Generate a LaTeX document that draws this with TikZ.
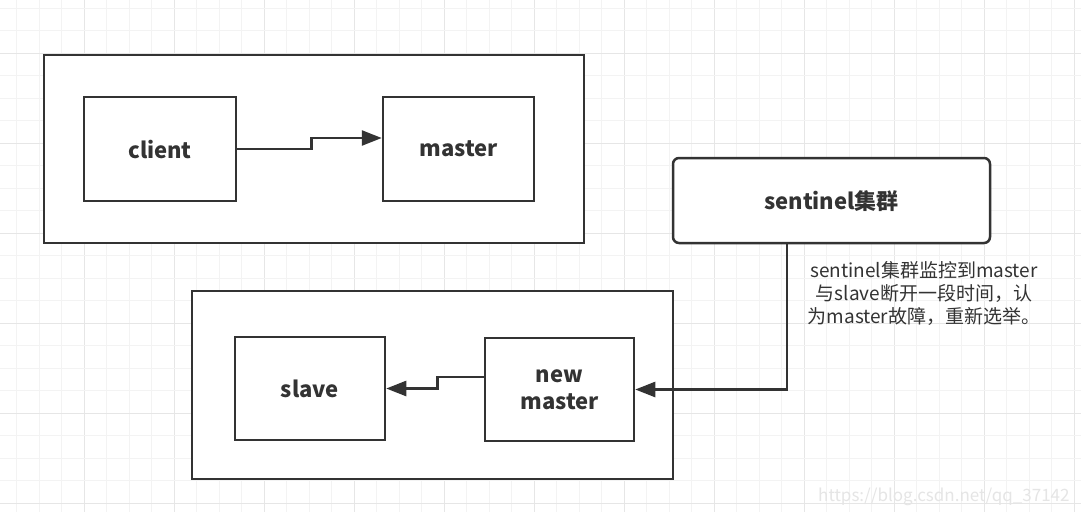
\documentclass[tikz,border=0pt]{standalone}
\usepackage{fontspec}
\setmainfont{Noto Sans CJK SC}
\usetikzlibrary{arrows.meta,calc}
\definecolor{ln}{HTML}{333333}
\definecolor{txt}{HTML}{333333}
\definecolor{gridminor}{HTML}{F3F3F3}
\definecolor{gridmajor}{HTML}{E6E6E6}
\begin{document}
\begin{tikzpicture}[x=1pt,y=-1pt,
  box/.style={draw=ln,line width=2.5pt,fill=white,inner sep=0pt,text=txt,
    font=\fontsize{22}{27}\selectfont\bfseries,align=center,text depth=0pt},
  arr/.style={draw=ln,line width=2.5pt,-{Triangle[length=20pt,width=15pt]}},
  note/.style={text=txt,font=\fontsize{19}{23}\selectfont,align=center,inner sep=0pt}]
\useasboundingbox (0,0) rectangle (1081,512);
\fill[white] (0,0) rectangle (1081,512);
% grid
\foreach \k in {0,...,47}{
  \pgfmathtruncatemacro\m{mod(\k,4)}
  \ifnum\m=3 \def\gc{gridmajor}\else\def\gc{gridminor}\fi
  \draw[\gc,line width=1pt] ({16.8+22.5*\k},0) -- ({16.8+22.5*\k},512);
}
\foreach \k in {0,...,22}{
  \pgfmathtruncatemacro\m{mod(\k,4)}
  \ifnum\m=2 \def\gc{gridmajor}\else\def\gc{gridminor}\fi
  \draw[\gc,line width=1pt] (0,{8.3+22.5*\k}) -- (1081,{8.3+22.5*\k});
}
% outer groups
\node[box,minimum width=540pt,minimum height=188pt] (g1) at (314,149) {};
\node[box,minimum width=481pt,minimum height=188pt] (g2) at (432.5,385) {};
% nodes
\node[box,minimum width=152pt,minimum height=104pt] (client) at (160,149) {client};
\node[box,minimum width=151pt,minimum height=104pt] (master) at (458.5,149) {master};
\node[box,rounded corners=6pt,minimum width=317pt,minimum height=85pt] (sentinel) at (831.5,200.5) {sentinel集群};
\node[box,minimum width=150pt,minimum height=103pt] (slave) at (310,388.5) {slave};
\node[box,minimum width=149pt,minimum height=103pt] (newmaster) at (559.5,389.5) {new\\master};
% connectors
\draw[arr] (client.east) -- ++(74,0) |- ([yshift=11pt]master.west);
\draw[arr] ([xshift=-44.5pt]sentinel.south) |- (newmaster.east);
\draw[arr] ([yshift=12.5pt]newmaster.west) -| ($(slave.east)+(51,0)$) -- (slave.east);
% annotation
\node[note] (ann) at (924,294) {sentinel集群监控到master\\与slave断开一段时间，认\\为master故障，重新选举。};
% watermark
\node[anchor=west,text=black!10,font=\fontsize{17}{20}\selectfont,inner sep=0pt] (wm) at (818,497) {https://blog.csdn.net/qq\_37142};
\end{tikzpicture}
\end{document}
